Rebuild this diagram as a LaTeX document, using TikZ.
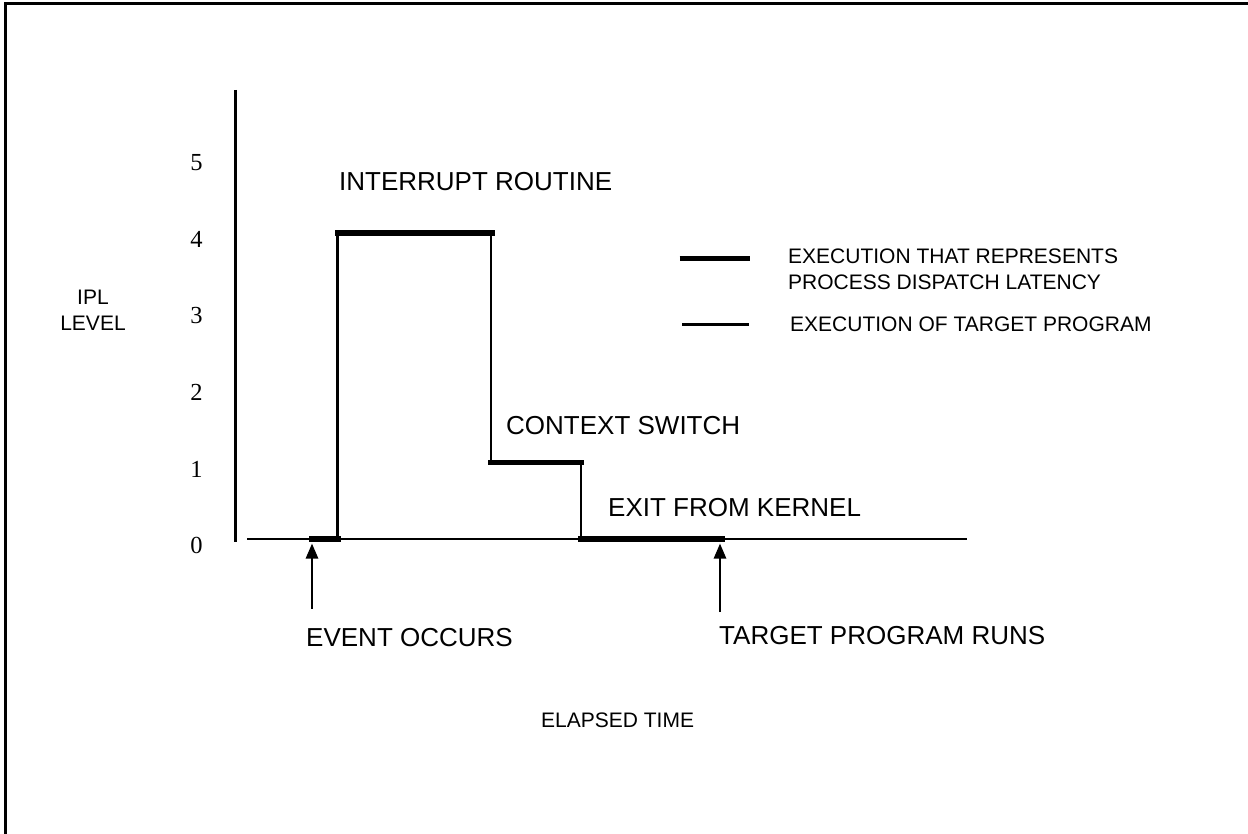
\documentclass[tikz,border=0pt]{standalone}
\usepackage{fontspec}
\setmainfont{Liberation Sans}
\newfontfamily\digitfont{Liberation Serif}
\usetikzlibrary{arrows.meta}
\begin{document}
\begin{tikzpicture}[x=1pt,y=-1pt,
  thinline/.style={line width=2.8pt},
  latency/.style={line width=5.5pt},
  frameline/.style={line width=3.2pt},
  pointer/.style={line width=2.6pt,-{Triangle[width=12pt,length=15pt]}},
  tick/.style={font=\digitfont\fontsize{24.5}{28}\selectfont,inner sep=0pt},
  biglabel/.style={font=\fontsize{26}{31}\selectfont,inner sep=0pt,anchor=base west},
  smalllabel/.style={font=\fontsize{21}{25.6}\selectfont,inner sep=0pt},
]
\useasboundingbox (0,0) rectangle (1248,834);
\fill[white] (0,0) rectangle (1248,834);

% page frame (left and top edges)
\draw[frameline] (5.8,834) -- (5.8,3.3) -- (1248,3.3);

% axes
\coordinate (ytop) at (235.5,90);
\coordinate (ybot) at (235.5,541.7);
\coordinate (xleft) at (247,539);
\coordinate (xright) at (967,539);
\draw[thinline] (ytop) -- (ybot);
\draw[thinline] (xleft) -- (xright);

% IPL scale
\node[tick] (t5) at (196.5,162.5) {5};
\node[tick] (t4) at (196.5,239) {4};
\node[tick] (t3) at (196.5,315.7) {3};
\node[tick] (t2) at (196.5,392.5) {2};
\node[tick] (t1) at (196.5,469) {1};
\node[tick] (t0) at (196.5,545.5) {0};
\node[smalllabel,align=center] (ipl) at (93,310) {IPL\\LEVEL};

% level path corners
\coordinate (ev0) at (309,539);
\coordinate (up0) at (337.5,539);
\coordinate (up4) at (337.5,233);
\coordinate (dn4) at (491,233);
\coordinate (dn1) at (491,462.7);
\coordinate (cs1) at (581,462.7);
\coordinate (cs0) at (581,539);
\coordinate (run0) at (724.5,539);

% transitions between levels
\draw[thinline] (up0) -- (up4);
\draw[thinline] (dn4) -- (dn1);
\draw[thinline] (cs1) -- (cs0);

% latency segments
\draw[latency] (ev0) -- ([xshift=3pt]up0);
\draw[latency] ([xshift=-2.5pt]up4) -- ([xshift=4pt]dn4);
\draw[latency] ([xshift=-3pt]dn1) -- ([xshift=2.7pt]cs1);
\draw[latency] ([xshift=-3pt]cs0) -- (run0);

% phase labels
\node[biglabel] (intr) at (339,190.7) {INTERRUPT ROUTINE};
\node[biglabel] (ctx) at (506,434) {CONTEXT SWITCH};
\node[biglabel] (exitk) at (608,516) {EXIT FROM KERNEL};

% event markers
\coordinate (evtail) at (312,608.7);
\coordinate (evtip) at (312,543.5);
\coordinate (rntail) at (720,612);
\coordinate (rntip) at (720,543.5);
\draw[pointer] (evtail) -- (evtip);
\draw[pointer] (rntail) -- (rntip);
\node[biglabel] (event) at (306,646) {EVENT OCCURS};
\node[biglabel] (target) at (719,644) {TARGET PROGRAM RUNS};
\node[smalllabel,anchor=base west] (elapsed) at (541,727.5) {ELAPSED TIME};

% legend
\coordinate (k1a) at (679.7,258.3);
\coordinate (k1b) at (750,258.3);
\coordinate (k2a) at (682,324.3);
\coordinate (k2b) at (749,324.3);
\draw[latency,line width=5pt] (k1a) -- (k1b);
\draw[thinline] (k2a) -- (k2b);
\node[smalllabel,anchor=base west] (key1a) at (788,263.5) {EXECUTION THAT REPRESENTS};
\node[smalllabel,anchor=base west] (key1b) at (788,289.2) {PROCESS DISPATCH LATENCY};
\node[smalllabel,anchor=base west] (key2) at (790,331.5) {EXECUTION OF TARGET PROGRAM};
\end{tikzpicture}
\end{document}
